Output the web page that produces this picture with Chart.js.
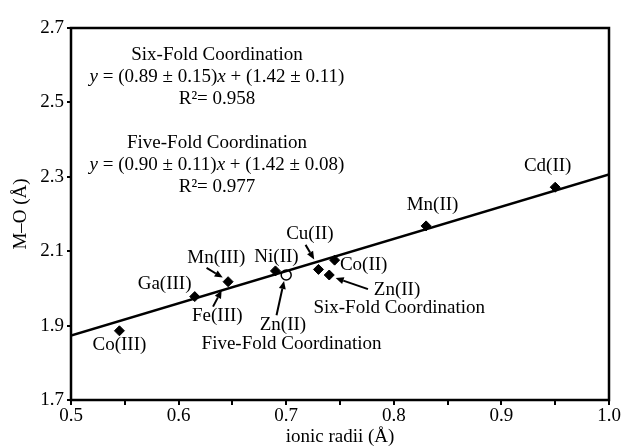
<!DOCTYPE html>
<html>
<head>
<meta charset="utf-8">
<script src="https://cdn.jsdelivr.net/npm/chart.js@4.4.1/dist/chart.umd.min.js"></script>
<style>
  html, body { margin: 0; padding: 0; background: #fff; }
  #wrap { width: 623px; height: 448px; }
</style>
</head>
<body>
<div id="wrap"><canvas id="chart" width="623" height="448"></canvas></div>
<script>
// ionic radii (Å) vs M–O distance (Å)
const sixFoldNames = ['Co(III)', 'Ga(III)', 'Mn(III)', 'Ni(II)', 'Cu(II)', 'Zn(II)', 'Co(II)', 'Mn(II)', 'Cd(II)'];
const sixFoldX = [0.545, 0.615, 0.646, 0.690, 0.730, 0.740, 0.745, 0.830, 0.950];
const sixFoldY = [1.886, 1.978, 2.018, 2.047, 2.051, 2.036, 2.076, 2.168, 2.272];

const fiveFoldNames = ['Zn(II)'];
const fiveFoldX = [0.700];
const fiveFoldY = [2.036];

// fitted line end points
const fitX = [0.5, 1.0];
const fitY = [1.873, 2.306];

const xTicks = [0.5, 0.6, 0.7, 0.8, 0.9, 1.0];
const yTicks = [1.7, 1.9, 2.1, 2.3, 2.5, 2.7];

const FONT = '"Liberation Serif", "Times New Roman", serif';
const FS = 19;

// text annotations, in data coordinates
const labels = [
    { t: 'Co(III)', x: 0.545, y: 1.848 },
    { t: 'Ga(III)', x: 0.587, y: 2.012 },
    { t: 'Mn(III)', x: 0.635, y: 2.082 },
    { t: 'Fe(III)', x: 0.636, y: 1.926 },
    { t: 'Ni(II)', x: 0.691, y: 2.084 },
    { t: 'Zn(II)', x: 0.697, y: 1.902 },
    { t: 'Five-Fold Coordination', x: 0.705, y: 1.851 },
    { t: 'Cu(II)', x: 0.722, y: 2.146 },
    { t: 'Co(II)', x: 0.772, y: 2.063 },
    { t: 'Zn(II)', x: 0.803, y: 1.996 },
    { t: 'Six-Fold Coordination', x: 0.805, y: 1.947 },
    { t: 'Mn(II)', x: 0.836, y: 2.223 },
    { t: 'Cd(II)', x: 0.943, y: 2.328 },
];

const arrows = [
    { x1: 0.718, y1: 2.117, x2: 0.726, y2: 2.078 },
    { x1: 0.626, y1: 2.055, x2: 0.641, y2: 2.029 },
    { x1: 0.632, y1: 1.951, x2: 0.640, y2: 1.995 },
    { x1: 0.691, y1: 1.928, x2: 0.698, y2: 2.020 },
    { x1: 0.776, y1: 1.998, x2: 0.746, y2: 2.028 },
];

const eqBlocks = [
    { title: 'Six-Fold Coordination', a: '(0.89 ± 0.15)', b: '(1.42 ± 0.11)', r2: 'R²= 0.958', y: 2.627 },
    { title: 'Five-Fold Coordination', a: '(0.90 ± 0.11)', b: '(1.42 ± 0.08)', r2: 'R²= 0.977', y: 2.391 },
];

const annotatePlugin = {
    id: 'annotate',
    afterDatasetsDraw(chart) {
        const { ctx, chartArea, scales } = chart;
        const sx = scales.x, sy = scales.y;
        ctx.save();
        // frame
        ctx.strokeStyle = '#000';
        ctx.lineWidth = 2.5;
        ctx.strokeRect(chartArea.left, chartArea.top, chartArea.right - chartArea.left, chartArea.bottom - chartArea.top);

        ctx.fillStyle = '#000';
        ctx.textAlign = 'center';
        ctx.textBaseline = 'middle';
        ctx.font = FS + 'px ' + FONT;
        labels.forEach((l) => {
            ctx.fillText(l.t, sx.getPixelForValue(l.x), sy.getPixelForValue(l.y));
        });

        // arrows
        ctx.lineWidth = 2;
        arrows.forEach((a) => {
            const x1 = sx.getPixelForValue(a.x1), y1 = sy.getPixelForValue(a.y1);
            const x2 = sx.getPixelForValue(a.x2), y2 = sy.getPixelForValue(a.y2);
            const ang = Math.atan2(y2 - y1, x2 - x1);
            const hl = 8, hw = 3.5;
            const bx = x2 - hl * Math.cos(ang), by = y2 - hl * Math.sin(ang);
            ctx.beginPath();
            ctx.moveTo(x1, y1);
            ctx.lineTo(bx, by);
            ctx.stroke();
            ctx.beginPath();
            ctx.moveTo(x2, y2);
            ctx.lineTo(bx + hw * Math.sin(ang), by - hw * Math.cos(ang));
            ctx.lineTo(bx - hw * Math.sin(ang), by + hw * Math.cos(ang));
            ctx.closePath();
            ctx.fill();
        });

        // equations
        const cx = 217;
        const lh = 22;
        eqBlocks.forEach((b) => {
            const y0 = sy.getPixelForValue(b.y);
            ctx.textAlign = 'center';
            ctx.font = FS + 'px ' + FONT;
            ctx.fillText(b.title, cx, y0);
            ctx.fillText(b.r2, cx, y0 + 2 * lh);
            const parts = [
                ['y', true], [' = ' + b.a, false], ['x', true], [' + ' + b.b, false],
            ];
            let w = 0;
            parts.forEach((p) => {
                ctx.font = (p[1] ? 'italic ' : '') + FS + 'px ' + FONT;
                w += ctx.measureText(p[0]).width;
            });
            let x = cx - w / 2;
            ctx.textAlign = 'left';
            parts.forEach((p) => {
                ctx.font = (p[1] ? 'italic ' : '') + FS + 'px ' + FONT;
                ctx.fillText(p[0], x, y0 + lh);
                x += ctx.measureText(p[0]).width;
            });
        });
        ctx.restore();
    },
};

new Chart(document.getElementById('chart'), {
    type: 'scatter',
    data: {
        datasets: [
            {
                type: 'line',
                data: fitX.map((x, i) => ({ x: x, y: fitY[i] })),
                borderColor: '#000',
                borderWidth: 2.5,
                pointRadius: 0,
                fill: false,
            },
            {
                label: 'Six-Fold',
                data: sixFoldX.map((x, i) => ({ x: x, y: sixFoldY[i], name: sixFoldNames[i] })),
                pointStyle: 'rectRot',
                pointRadius: 5,
                backgroundColor: '#000',
                borderColor: '#000',
                borderWidth: 1,
            },
            {
                label: 'Five-Fold',
                data: fiveFoldX.map((x, i) => ({ x: x, y: fiveFoldY[i], name: fiveFoldNames[i] })),
                pointStyle: 'circle',
                pointRadius: 5,
                backgroundColor: '#fff',
                borderColor: '#000',
                borderWidth: 1.5,
            },
        ],
    },
    options: {
        responsive: false,
        animation: false,
        layout: { padding: { left: 0, top: 28, right: 14, bottom: 0 } },
        plugins: { legend: { display: false }, tooltip: { enabled: false } },
        scales: {
            x: {
                type: 'linear',
                min: 0.5,
                max: 1.0,
                afterBuildTicks: (axis) => {
                    const t = [];
                    for (let i = 0; i <= 10; i++) t.push({ value: 0.5 + i * 0.05 });
                    axis.ticks = t;
                },
                ticks: {
                    color: '#000',
                    font: { family: FONT, size: FS },
                    padding: 0,
                    maxRotation: 0,
                    callback: (v) => {
                        const m = xTicks.find((t) => Math.abs(t - v) < 1e-6);
                        return m === undefined ? '' : m.toFixed(1);
                    },
                },
                grid: { drawOnChartArea: false, drawTicks: true, tickLength: 5, color: '#000', lineWidth: 2 },
                border: { display: false },
                title: {
                    display: true,
                    text: 'ionic radii (Å)',
                    color: '#000',
                    font: { family: FONT, size: FS },
                    padding: { top: 0, bottom: 0 },
                },
                afterFit: (axis) => { axis.height = 48; },
            },
            y: {
                type: 'linear',
                min: 1.7,
                max: 2.7,
                afterBuildTicks: (axis) => {
                    axis.ticks = yTicks.map((v) => ({ value: v }));
                },
                ticks: {
                    color: '#000',
                    font: { family: FONT, size: FS },
                    padding: 3,
                    callback: (v) => v.toFixed(1),
                },
                grid: { drawOnChartArea: false, drawTicks: true, tickLength: 4, color: '#000', lineWidth: 2 },
                border: { display: false },
                title: {
                    display: true,
                    text: 'M–O (Å)',
                    color: '#000',
                    font: { family: FONT, size: FS },
                    padding: { top: 10, bottom: 0 },
                },
                afterFit: (axis) => { axis.width = 71; },
            },
        },
    },
    plugins: [annotatePlugin],
});
</script>
</body>
</html>
